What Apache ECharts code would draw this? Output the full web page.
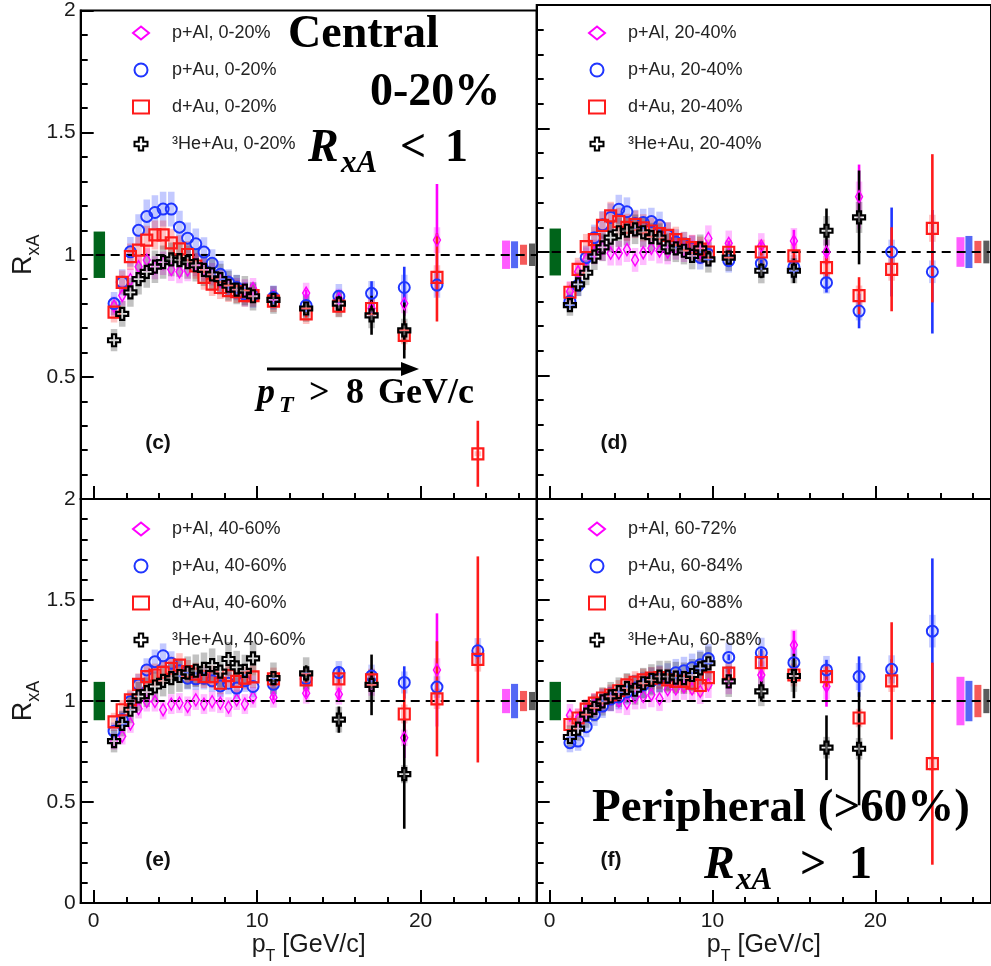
<!DOCTYPE html>
<html>
<head>
<meta charset="utf-8">
<script src="https://cdn.jsdelivr.net/npm/echarts@6/dist/echarts.min.js"></script>
<style>
html,body{margin:0;padding:0;background:#fff;}
#chart{width:991px;height:966px;}
</style>
</head>
<body>
<div id="chart"></div>
<script>
// ---------------- DATA ----------------
const pT = [1.25,1.75,2.25,2.75,3.25,3.75,4.25,4.75,5.25,5.75,6.25,6.75,7.25,7.75,8.25,8.75,9.25,9.75,11,13,15,17,19,21,23.5];
// stat. errors are shown for the high-pT bins (11 ... 23.5); at low pT they are hidden by the markers
const pTHigh = [11,13,15,17,19,21,23.5];

// (c) 0-20%
const pAl_c = [0.79,0.833,0.898,0.951,0.978,0.947,0.965,0.94,0.93,0.938,0.96,0.94,0.92,0.893,0.873,0.862,0.857,0.862,0.83,0.843,0.82,0.78,0.80,1.06,null];
const pAu_c = [0.80,0.887,1.012,1.10,1.157,1.173,1.187,1.187,1.113,1.068,1.045,1.011,0.965,0.92,0.887,0.866,0.838,0.833,0.825,0.792,0.83,0.842,0.866,0.876,null];
const dAu_c = [0.765,0.887,0.992,1.019,1.06,1.081,1.081,1.049,1.024,1.001,0.954,0.907,0.88,0.866,0.853,0.849,0.833,0.833,0.81,0.758,0.79,0.78,0.67,0.907,0.185];
const He_c  = [0.65,0.758,0.846,0.90,0.93,0.951,0.97,0.981,0.978,0.97,0.957,0.938,0.92,0.90,0.873,0.857,0.853,0.83,0.815,0.78,0.80,0.752,0.69,null,null];
const pAl_c_err = [0.01,0.015,0.02,0.03,0.05,0.23,0];
const pAu_c_err = [0.01,0.015,0.02,0.05,0.085,0.03,0];
const dAu_c_err = [0.01,0.015,0.02,0.04,0.06,0.18,0.135];
const He_c_err  = [0.015,0.02,0.03,0.08,0.115,0,0];

// (d) 20-40%
const pAl_d = [0.84,0.92,0.97,1.0,1.015,0.995,0.995,1.01,0.968,0.997,1.015,1.004,1.0,1.02,1.01,1.019,1.0,1.055,1.035,1.025,1.045,1.0,1.224,null,null];
const pAu_d = [0.80,0.865,0.977,1.058,1.11,1.14,1.173,1.163,1.115,1.119,1.123,1.108,1.067,1.04,1.03,1.015,0.978,0.99,0.965,0.954,0.94,0.876,0.761,1.0,0.92];
const dAu_d = [0.837,0.93,1.022,1.05,1.108,1.146,1.123,1.10,1.112,1.098,1.085,1.075,1.067,1.05,1.03,1.018,1.012,1.0,0.999,1.0,0.984,0.937,0.823,0.93,1.096];
const He_d  = [0.785,0.869,0.916,0.981,1.019,1.058,1.08,1.086,1.092,1.08,1.06,1.058,1.019,1.015,1.005,0.984,1.015,0.97,0.977,0.924,0.924,1.086,1.14,null,null];
const pAl_d_err = [0.01,0.015,0.045,0.05,0.13,0,0];
const pAu_d_err = [0.01,0.015,0.02,0.04,0.07,0.18,0.25];
const dAu_d_err = [0.01,0.015,0.02,0.04,0.075,0.17,0.3];
const He_d_err  = [0.015,0.03,0.05,0.09,0.19,0,0];

// (e) 40-60%
const pAl_e = [0.80,0.826,0.887,0.962,0.998,0.998,0.957,0.985,0.99,0.974,1.006,0.985,0.997,0.99,0.97,1.006,0.985,1.018,1.018,1.039,1.034,1.08,0.818,1.154,null];
const pAu_e = [0.851,0.908,0.998,1.08,1.154,1.195,1.224,1.187,1.15,1.113,1.11,1.113,1.1,1.075,1.088,1.064,1.1,1.072,1.083,1.11,1.141,1.124,1.092,1.069,1.249];
const dAu_e = [0.897,0.957,1.006,1.083,1.121,1.129,1.142,1.162,1.178,1.146,1.133,1.121,1.121,1.088,1.126,1.097,1.113,1.12,1.11,1.105,1.11,1.105,0.936,1.011,1.206];
const He_e  = [0.802,0.887,0.957,1.023,1.044,1.072,1.1,1.113,1.124,1.141,1.15,1.159,1.178,1.146,1.208,1.167,1.149,1.211,1.113,1.137,0.908,1.08,0.638,null,null];
const pAl_e_err = [0.015,0.02,0.03,0.05,0.1,0.28,0];
const pAu_e_err = [0.01,0.02,0.03,0.03,0.08,0.03,0.04];
const dAu_e_err = [0.015,0.02,0.03,0.05,0.12,0.285,0.51];
const He_e_err  = [0.02,0.04,0.065,0.15,0.27,0,0];

// (f) peripheral
const pAl_f = [0.93,0.91,0.95,0.98,1.0,1.01,1.0,0.99,1.02,1.023,1.031,1.011,1.056,1.06,1.07,1.06,1.048,1.08,1.1,1.129,1.277,1.072,null,null,null];
const pAu_f = [0.794,0.802,0.873,0.933,0.975,1.01,1.02,1.045,1.065,1.08,1.1,1.11,1.12,1.14,1.15,1.165,1.18,1.21,1.216,1.239,1.19,1.154,1.121,1.157,1.346];
const dAu_f = [0.884,0.916,0.96,0.99,1.015,1.03,1.051,1.08,1.093,1.105,1.113,1.116,1.105,1.097,1.097,1.088,1.077,1.116,1.138,1.19,1.129,1.121,0.916,1.1,0.69];
const He_f  = [0.822,0.864,0.933,0.966,0.998,1.023,1.044,1.064,1.056,1.088,1.105,1.121,1.121,1.116,1.113,1.129,1.162,1.187,1.097,1.048,1.124,0.769,0.764,null,null];
const pAl_f_err = [0.04,0.04,0.07,0.1,0,0,0];
const pAu_f_err = [0.015,0.02,0.03,0.05,0.1,0.05,0.36];
const dAu_f_err = [0.02,0.02,0.03,0.05,0.04,0.29,0.5];
const He_f_err  = [0.03,0.05,0.11,0.16,0.28,0,0];

// relative point-to-point systematic uncertainties [pAl, pAu, dAu, He]
const sys_c = [0.05,0.06,0.055,0.07];
const sys_d = [0.05,0.05,0.05,0.055];
const sys_e = [0.05,0.05,0.05,0.07];
const sys_f = [0.06,0.06,0.05,0.07];
// global (normalisation) uncertainties [pAl, pAu, dAu, He]
const glob_c = [0.058,0.055,0.041,0.046];
const glob_d = [0.06,0.065,0.045,0.046];
const glob_e = [0.06,0.085,0.05,0.045];
const glob_f = [0.12,0.10,0.08,0.06];
const ppNorm = 0.095; // common p+p normalisation uncertainty (green box)

const labels_c = ['p+Al, 0-20%','p+Au, 0-20%','d+Au, 0-20%','³He+Au, 0-20%'];
const labels_d = ['p+Al, 20-40%','p+Au, 20-40%','d+Au, 20-40%','³He+Au, 20-40%'];
const labels_e = ['p+Al, 40-60%','p+Au, 40-60%','d+Au, 40-60%','³He+Au, 40-60%'];
const labels_f = ['p+Al, 60-72%','p+Au, 60-84%','d+Au, 60-88%','³He+Au, 60-88%'];

const xMajorTicks = [0,10,20];
const xMinorTicks = [0,2,4,6,8,10,12,14,16,18,20,22,24,26];

// ---------------- STYLE ----------------
const SANS = '"Liberation Sans", Arial, sans-serif';
const SERIF = '"Liberation Serif", "Times New Roman", serif';
const XMIN = -0.79, XMAX = 27.1;
const BOX_HALF = 0.2;
const GLOB_X = [[24.98,25.47],[25.53,25.96],[26.08,26.51],[26.63,27.0]];
const GLOB_COL = ['#ff5cff','#5468f5','#f55a5a','#5c5c5c'];
const GREEN_X = [0,0.7];
const LINE_COL = ['#ff00ff','#1f35ff','#ff1a1a','#000000'];
const BOX_COL = ['rgba(255,0,255,0.26)','rgba(40,60,255,0.28)','rgba(255,20,20,0.26)','rgba(0,0,0,0.24)'];
const PLUS = 'path://M-1,-3L1,-3L1,-1L3,-1L3,1L1,1L1,3L-1,3L-1,1L-3,1L-3,-1L-1,-1Z';
const SYMBOLS = [
  {symbol:'diamond', size:[7,12], fill:'rgba(0,0,0,0)', bw:1.5},
  {symbol:'circle', size:11, fill:'rgba(0,0,0,0)', bw:2},
  {symbol:'rect', size:11, fill:'rgba(0,0,0,0)', bw:2.2},
  {symbol:PLUS, size:12, fill:'rgba(255,255,255,0.35)', bw:2.2}
];

const panels = [
  {vals:[pAl_c,pAu_c,dAu_c,He_c], errs:[pAl_c_err,pAu_c_err,dAu_c_err,He_c_err], sys:sys_c, glob:glob_c, names:labels_c,
   grid:{left:80.7, top:5, width:456, height:494}, bottom:false, leftCol:true, tag:'(c)', tagPos:[158,443]},
  {vals:[pAl_d,pAu_d,dAu_d,He_d], errs:[pAl_d_err,pAu_d_err,dAu_d_err,He_d_err], sys:sys_d, glob:glob_d, names:labels_d,
   grid:{left:536.7, top:5, width:455.3, height:494}, bottom:false, leftCol:false, tag:'(d)', tagPos:[614,443]},
  {vals:[pAl_e,pAu_e,dAu_e,He_e], errs:[pAl_e_err,pAu_e_err,dAu_e_err,He_e_err], sys:sys_e, glob:glob_e, names:labels_e,
   grid:{left:80.7, top:499, width:456, height:408}, bottom:true, leftCol:true, tag:'(e)', tagPos:[158,860]},
  {vals:[pAl_f,pAu_f,dAu_f,He_f], errs:[pAl_f_err,pAu_f_err,dAu_f_err,He_f_err], sys:sys_f, glob:glob_f, names:labels_f,
   grid:{left:536.7, top:499, width:455.3, height:408}, bottom:true, leftCol:false, tag:'(f)', tagPos:[611,860]}
];

function boxItem(params, api){
  const x = api.value(0), y = api.value(1), s = api.value(2);
  const a = api.coord([x - BOX_HALF, y + s]);
  const b = api.coord([x + BOX_HALF, y - s]);
  return {type:'rect', shape:{x:a[0], y:a[1], width:b[0]-a[0], height:b[1]-a[1]}, style:{fill: api.visual('color')}};
}
function errItem(params, api){
  const x = api.value(0), y = api.value(1), e = api.value(2);
  const a = api.coord([x, y + e]);
  const b = api.coord([x, y - e]);
  return {type:'line', shape:{x1:a[0], y1:a[1], x2:b[0], y2:b[1]}, style:{stroke: api.visual('color'), lineWidth:2.6}};
}
function globItem(params, api){
  const x0 = api.value(0), x1 = api.value(1), h = api.value(2), k = api.value(3);
  const a = api.coord([x0, 1 + h]);
  const b = api.coord([x1, 1 - h]);
  return {type:'rect', shape:{x:a[0], y:a[1], width:b[0]-a[0], height:b[1]-a[1]}, style:{fill: k < 0 ? '#00641a' : GLOB_COL[k]}};
}

const grids = [], xAxes = [], yAxes = [], series = [], legends = [], graphics = [];

panels.forEach((P, g) => {
  grids.push(Object.assign({show:true, borderColor:'#000', borderWidth:2, backgroundColor:'transparent'}, P.grid));
  xAxes.push({type:'value', gridIndex:g, min:XMIN, max:XMAX, position:'bottom',
    axisLine:{show:true, onZero:false, lineStyle:{color:'#000', width:2}},
    axisTick:{show:true, inside:true, length:13, customValues:xMajorTicks, lineStyle:{color:'#000', width:2}},
    axisLabel:{show:P.bottom, customValues:xMajorTicks, margin:8, fontSize:21, color:'#1a1a1a', fontFamily:SANS},
    splitLine:{show:false},
    name: P.bottom ? '{p|p}{t|T}{n| [GeV/c]}' : '', nameLocation:'middle', nameGap:28,
    nameTextStyle:{fontFamily:SANS, color:'#1a1a1a', rich:{
      p:{fontSize:25, fontFamily:SANS, color:'#1a1a1a', verticalAlign:'bottom', padding:[0,0,7,0]},
      t:{fontSize:16, fontFamily:SANS, color:'#1a1a1a', verticalAlign:'bottom'},
      n:{fontSize:25, fontFamily:SANS, color:'#1a1a1a', verticalAlign:'bottom', padding:[0,0,7,0]}}}
  });
  xAxes.push({type:'value', gridIndex:g, min:XMIN, max:XMAX, position:'bottom',
    axisLine:{show:false, onZero:false}, axisLabel:{show:false}, splitLine:{show:false},
    axisTick:{show:true, inside:true, length:6, customValues:xMinorTicks, lineStyle:{color:'#000', width:2}}
  });
  yAxes.push({type:'value', gridIndex:g, min:0, max:2, interval:0.5, position:'left',
    axisLine:{show:true, onZero:false, lineStyle:{color:'#000', width:2}},
    axisTick:{show:true, inside:true, length:13, lineStyle:{color:'#000', width:2}},
    minorTick:{show:true, splitNumber:5, length:7, lineStyle:{color:'#000', width:2}},
    splitLine:{show:false},
    axisLabel:{show:P.leftCol, margin:5, fontSize:21, color:'#1a1a1a', fontFamily:SANS,
      formatter: v => (!P.bottom && v === 0) ? '' : String(v)},
    name: P.leftCol ? '{r|R}{s|xA}' : '', nameLocation:'middle', nameGap:30, nameRotate:90,
    nameTextStyle:{rich:{
      r:{fontSize:27, fontFamily:SANS, color:'#1a1a1a', verticalAlign:'bottom', padding:[0,0,6,0]},
      s:{fontSize:18, fontFamily:SANS, color:'#1a1a1a', verticalAlign:'bottom'}}}
  });
  const xi = 2*g, yi = g;
  series.push({type:'scatter', name:'ref'+g, xAxisIndex:xi, yAxisIndex:yi, data:[], z:1, silent:true,
    markLine:{silent:true, symbol:'none', label:{show:false}, animation:false,
      lineStyle:{color:'#000', width:2, type:[9,6]}, data:[{yAxis:1}]}});
  P.vals.forEach((vals, k) => {
    const d = [];
    vals.forEach((v, i) => { if (v !== null) d.push([pT[i], v, v * P.sys[k]]); });
    series.push({type:'custom', name:'sys'+g+k, xAxisIndex:xi, yAxisIndex:yi, z:2, silent:true, clip:true,
      itemStyle:{color:BOX_COL[k]}, renderItem:boxItem, data:d});
  });
  const gd = [[GREEN_X[0], GREEN_X[1], ppNorm, -1]];
  P.glob.forEach((h, k) => gd.push([GLOB_X[k][0], GLOB_X[k][1], h, k]));
  series.push({type:'custom', name:'glob'+g, xAxisIndex:xi, yAxisIndex:yi, z:3, silent:true,
    renderItem:globItem, data:gd, encode:{x:[0,1], y:2}});
  P.errs.forEach((errs, k) => {
    const d = [];
    errs.forEach((e, j) => {
      const i = pT.indexOf(pTHigh[j]);
      const v = P.vals[k][i];
      if (v !== null && e > 0) d.push([pTHigh[j], v, e]);
    });
    series.push({type:'custom', name:'err'+g+k, xAxisIndex:xi, yAxisIndex:yi, z:4, silent:true, clip:true,
      itemStyle:{color:LINE_COL[k]}, renderItem:errItem, data:d});
  });
  P.vals.forEach((vals, k) => {
    const d = [];
    vals.forEach((v, i) => { if (v !== null) d.push([pT[i], v]); });
    const S = SYMBOLS[k];
    series.push({type:'scatter', name:P.names[k], xAxisIndex:xi, yAxisIndex:yi, z:5+k, silent:true,
      symbol:S.symbol, symbolSize:S.size,
      itemStyle:{color:S.fill, borderColor:LINE_COL[k], borderWidth:S.bw, opacity:1},
      data:d});
  });
  const lx = P.grid.left + 46.3;
  legends.push({show:true, selectedMode:false, orient:'vertical', left:lx, top:P.grid.top + (P.bottom ? 15 : 13),
    itemWidth:16, itemHeight:13, itemGap:17, data:P.names,
    textStyle:{fontFamily:SANS, fontSize:18, lineHeight:20, color:'#222', padding:[0,0,0,18]}});
  graphics.push({type:'text', x:P.tagPos[0], y:P.tagPos[1],
    style:{text:P.tag, font:'bold 21px ' + SANS, fill:'#111', align:'center', verticalAlign:'middle'}});
});

function txt(t, x, baseline, size, style){
  return {type:'text', x:x, y:baseline - 0.3*size, z:100,
    style:{text:t, font:(style||'bold') + ' ' + size + 'px ' + SERIF, fill:'#000', align:'left', verticalAlign:'middle'}};
}
graphics.push(
  txt('Central', 288, 49, 46),
  txt('0-20%', 370, 107, 46),
  txt('R', 308, 163, 46, 'italic bold'),
  txt('xA', 341, 173, 31, 'italic bold'),
  txt('<', 400, 163, 46),
  txt('1', 445, 163, 46),
  {type:'line', z:100, shape:{x1:267, y1:369, x2:405, y2:369}, style:{stroke:'#000', lineWidth:3}},
  {type:'polygon', z:100, shape:{points:[[401,362],[419,369],[401,376]]}, style:{fill:'#000'}},
  txt('p', 257, 405, 36, 'italic bold'),
  txt('T', 279, 413, 24, 'italic bold'),
  txt('>', 309, 405, 36),
  txt('8', 346, 405, 36),
  txt('GeV/c', 378, 405, 36),
  txt('Peripheral (>60%)', 592, 823, 47),
  txt('R', 704, 880, 46, 'italic bold'),
  txt('xA', 736, 890, 31, 'italic bold'),
  txt('>', 800, 880, 46),
  txt('1', 849, 880, 46)
);

const chart = echarts.init(document.getElementById('chart'), null, {renderer:'canvas'});
chart.setOption({
  animation:false,
  backgroundColor:'#fff',
  grid:grids, xAxis:xAxes, yAxis:yAxes, series:series, legend:legends, graphic:graphics
});
</script>
</body>
</html>
